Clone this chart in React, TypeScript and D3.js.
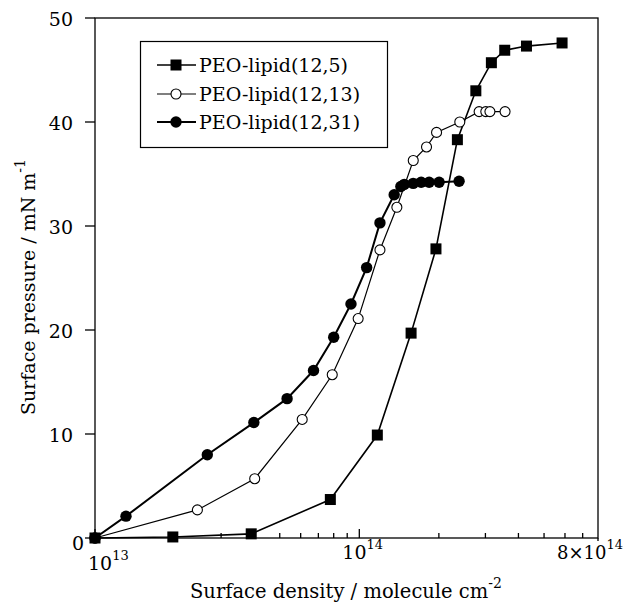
import React, { useEffect, useRef } from "react";
import * as d3 from "d3";

// surface density (molecule cm^-2) and surface pressure (mN/m)
const x125 = [1e13, 1.97e13, 3.9e13, 7.77e13, 1.17e14, 1.57e14, 1.95e14, 2.35e14, 2.76e14, 3.16e14, 3.55e14, 4.29e14, 5.85e14];
const y125 = [0, 0.1, 0.4, 3.7, 9.9, 19.7, 27.8, 38.3, 43.0, 45.7, 46.9, 47.3, 47.6];

const x1213 = [1e13, 2.44e13, 4.02e13, 6.08e13, 7.9e13, 9.9e13, 1.197e14, 1.387e14, 1.6e14, 1.796e14, 1.96e14, 2.4e14, 2.84e14, 3.01e14, 3.12e14, 3.56e14];
const y1213 = [0, 2.7, 5.7, 11.4, 15.7, 21.1, 27.7, 31.8, 36.3, 37.6, 39.0, 40.0, 41.0, 41.0, 41.0, 41.0];

const x1231 = [1e13, 1.31e13, 2.66e13, 3.99e13, 5.33e13, 6.71e13, 8.0e13, 9.3e13, 1.066e14, 1.197e14, 1.355e14, 1.436e14, 1.479e14, 1.599e14, 1.714e14, 1.837e14, 2.004e14, 2.385e14];
const y1231 = [0, 2.1, 8.0, 11.1, 13.4, 16.1, 19.3, 22.5, 26.0, 30.3, 33.0, 33.8, 34.0, 34.1, 34.2, 34.2, 34.2, 34.3];

const yTicks = [0, 10, 20, 30, 40, 50];
const xMinor = [2e13, 3e13, 4e13, 5e13, 6e13, 7e13, 8e13, 9e13, 2e14, 3e14, 4e14, 5e14, 6e14, 7e14];
const legendLabels = ["PEO-lipid(12,5)", "PEO-lipid(12,13)", "PEO-lipid(12,31)"];

const FONT = "DejaVu Serif";

const App = () => {
  const svgRef = useRef(null);

  useEffect(() => {
    const width = 626, height = 605;
    const svg = d3.select(svgRef.current)
      .attr("width", width)
      .attr("height", height)
      .style("background", "#fff");
    svg.selectAll("*").remove();

    const x = d3.scaleLog().domain([1e13, 8e14]).range([95, 598]);
    const y = d3.scaleLinear().domain([0, 50]).range([538, 18]);

    const series = [
      { xs: x125, ys: y125, marker: "square", lw: 1.6 },
      { xs: x1213, ys: y1213, marker: "open", lw: 1.2 },
      { xs: x1231, ys: y1231, marker: "filled", lw: 2 },
    ];

    // frame
    svg.append("rect")
      .attr("x", x(1e13)).attr("y", y(50))
      .attr("width", x(8e14) - x(1e13)).attr("height", y(0) - y(50))
      .attr("fill", "none").attr("stroke", "#000").attr("stroke-width", 1.3);

    // y ticks (outward)
    yTicks.forEach(t => {
      svg.append("line")
        .attr("x1", x(1e13) - 10).attr("x2", x(1e13))
        .attr("y1", y(t)).attr("y2", y(t))
        .attr("stroke", "#000").attr("stroke-width", 1.3);
      svg.append("text")
        .attr("x", t === 0 ? 84 : 73)
        .attr("y", y(t) + (t === 0 ? 12 : 8))
        .attr("text-anchor", "end")
        .style("font-family", FONT).style("font-size", "19px")
        .text(t);
    });

    // x ticks (inward)
    xMinor.forEach(t => {
      svg.append("line")
        .attr("x1", x(t)).attr("x2", x(t))
        .attr("y1", y(0)).attr("y2", y(0) - 5)
        .attr("stroke", "#000").attr("stroke-width", 1.3);
    });
    [1e13, 1e14].forEach(t => {
      svg.append("line")
        .attr("x1", x(t)).attr("x2", x(t))
        .attr("y1", y(0)).attr("y2", y(0) - 9)
        .attr("stroke", "#000").attr("stroke-width", 1.3);
    });
    svg.append("line")
      .attr("x1", x(8e14)).attr("x2", x(8e14))
      .attr("y1", y(0)).attr("y2", y(0) + 3)
      .attr("stroke", "#000").attr("stroke-width", 1.3);

    const xLabels = [
      { v: 1e13, pre: "10", sup: "13", dx: -7, by: 570, fs: 19 },
      { v: 1e14, pre: "10", sup: "14", dx: -17, by: 559, fs: 19 },
      { v: 8e14, pre: "8×10", sup: "14", dx: -41, by: 559, fs: 18 },
    ];
    xLabels.forEach(l => {
      const t = svg.append("text")
        .attr("x", x(l.v) + l.dx).attr("y", l.by)
        .style("font-family", FONT).style("font-size", l.fs + "px");
      t.append("tspan").text(l.pre);
      t.append("tspan").attr("dy", -10).style("font-size", "13px").text(l.sup);
    });

    // axis titles
    const xt = svg.append("text")
      .attr("x", 190).attr("y", 598)
      .style("font-family", FONT).style("font-size", "19.5px");
    xt.append("tspan").text("Surface density / molecule cm");
    xt.append("tspan").attr("dy", -10).style("font-size", "14px").text("-2");

    const yt = svg.append("text")
      .attr("transform", "translate(35,287) rotate(-90)")
      .attr("text-anchor", "middle")
      .style("font-family", FONT).style("font-size", "19px");
    yt.append("tspan").text("Surface pressure / mN m");
    yt.append("tspan").attr("dy", -10).style("font-size", "14px").text("-1");

    const drawMarker = (g, kind, cx, cy) => {
      if (kind === "square") {
        g.append("rect")
          .attr("x", cx - 5.5).attr("y", cy - 5.5)
          .attr("width", 11).attr("height", 11)
          .attr("fill", "#000");
      } else if (kind === "open") {
        g.append("circle")
          .attr("cx", cx).attr("cy", cy).attr("r", 5)
          .attr("fill", "#fff").attr("stroke", "#000").attr("stroke-width", 1.1);
      } else {
        g.append("circle")
          .attr("cx", cx).attr("cy", cy).attr("r", 5.7)
          .attr("fill", "#000");
      }
    };

    const line = d3.line().x(d => x(d[0])).y(d => y(d[1]));

    series.forEach(s => {
      const pts = s.xs.map((v, i) => [v, s.ys[i]]);
      svg.append("path")
        .attr("d", line(pts))
        .attr("fill", "none")
        .attr("stroke", "#000")
        .attr("stroke-width", s.lw);
      const g = svg.append("g");
      pts.forEach(p => drawMarker(g, s.marker, x(p[0]), y(p[1])));
    });

    // legend
    svg.append("rect")
      .attr("x", 140.5).attr("y", 41.5)
      .attr("width", 247).attr("height", 106)
      .attr("fill", "#fff").attr("stroke", "#000").attr("stroke-width", 1.2);
    const rowY = [65, 94, 122];
    series.forEach((s, i) => {
      const g = svg.append("g");
      g.append("line")
        .attr("x1", 157).attr("x2", 196)
        .attr("y1", rowY[i]).attr("y2", rowY[i])
        .attr("stroke", "#000").attr("stroke-width", s.lw);
      drawMarker(g, s.marker, 176, rowY[i]);
      g.append("text")
        .attr("x", 199).attr("y", rowY[i] + 7)
        .style("font-family", FONT).style("font-size", "19px")
        .text(legendLabels[i]);
    });
  }, []);

  return (
    <div style={{ position: "absolute", left: 0, top: 0 }}>
      <svg ref={svgRef}></svg>
    </div>
  );
};

export default App;
